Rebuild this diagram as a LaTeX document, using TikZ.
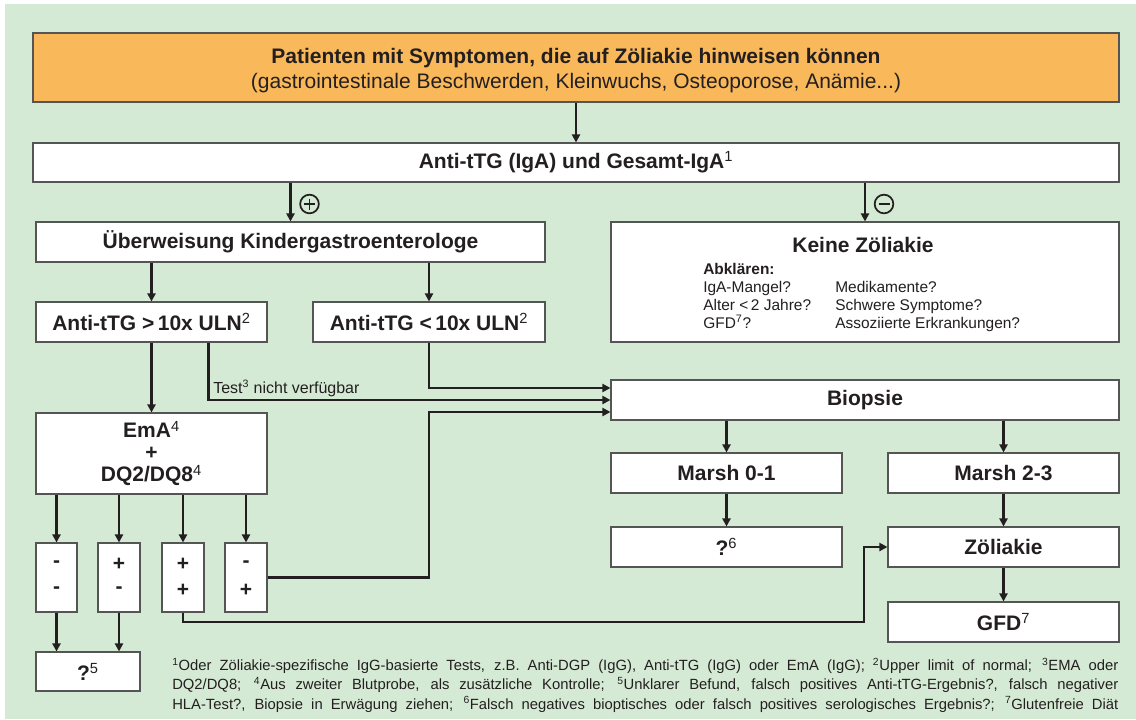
\documentclass[tikz,border=0pt]{standalone}
\usepackage{fontspec}
\setmainfont{Liberation Sans}
\usetikzlibrary{arrows.meta,calc}
\definecolor{bg}{RGB}{213,234,212}
\definecolor{orng}{RGB}{249,184,90}
\definecolor{ink}{RGB}{35,31,32}
\definecolor{edge}{RGB}{85,85,85}
\newcommand\fbig{\fontsize{15.75pt}{16.5pt}\selectfont}
\newcommand\fmid{\fontsize{11.6pt}{13.5pt}\selectfont}
\newcommand\fsmall{\fontsize{11.1pt}{14.6pt}\selectfont}
\newcommand\sps[1]{\textsuperscript{\mdseries #1}}
\begin{document}
\begin{tikzpicture}[x=0.75pt,y=-0.75pt,
  every node/.style={text=ink},
  box/.style={draw=edge, fill=white, line width=0.8pt, inner sep=0pt, font=\fbig\bfseries, align=center},
  corners/.style n args={4}{at={({(#1+#3)/2},{(#2+#4)/2})}, minimum width={(#3-#1)*0.75pt}, minimum height={(#4-#2)*0.75pt}},
  arr/.style={draw=ink, line width=1.7pt, -{Triangle[length=6pt,width=6pt]}},
  circ/.style={circle, draw=ink, line width=1.3pt, minimum size=14pt, inner sep=0pt},
  signline/.style={draw=ink, line width=1.4pt},
  sign/.style={font=\fbig\bfseries, inner sep=0pt},
  small/.style={font=\fmid, inner sep=0pt, anchor=base west},
]
\useasboundingbox (0,0) rectangle (1136,719);
\fill[bg] (5,4) rectangle (1136,719);

% boxes
\node[box, fill=orng, corners={33}{33}{1119}{102}, font=\fontsize{15.75pt}{18.75pt}\selectfont\bfseries] (tit)
  {\rule{0pt}{15.7pt}Patienten mit Symptomen, die auf Zöliakie hinweisen können\\\mdseries (gastrointestinale Beschwerden, Kleinwuchs, Osteoporose, Anämie...)};
\node[box, corners={33}{143}{1119}{182}] (igA) {Anti-tTG (IgA) und Gesamt-IgA\sps{1}};
\node[box, corners={36}{222}{545}{262}] (ueb) {Überweisung Kindergastroenterologe};
\node[box, corners={611}{222}{1119}{342}] (keine) {};
\node[font=\fbig\bfseries, anchor=base, inner sep=0pt] (kztitle) at (863,252) {Keine Zöliakie};
\node[small, font=\fmid\bfseries] (abk) at (703,274.5) {Abklären:};
\node[small] (k1) at (703,292.5) {IgA-Mangel?};
\node[small] (k2) at (703,310.5) {Alter <\,2 Jahre?};
\node[small] (k3) at (703,328) {GFD\sps{7}?};
\node[small] (k4) at (835,292.5) {Medikamente?};
\node[small] (k5) at (835,310.5) {Schwere Symptome?};
\node[small] (k6) at (835,328) {Assoziierte Erkrankungen?};

\node[box, corners={36}{302}{267}{342}] (gt) {Anti-tTG >\,10x ULN\sps{2}};
\node[box, corners={313}{302}{545}{342}] (lt) {Anti-tTG <\,10x ULN\sps{2}};
\node[box, corners={611}{380}{1119}{420}] (biop) {Biopsie};
\node[box, corners={36}{413}{267}{494}] (ema) {EmA\sps{4}\\+\\DQ2/DQ8\sps{4}};

\node[box, corners={36}{543}{77}{612}] (s1) {};
\node[box, corners={98}{543}{140}{612}] (s2) {};
\node[box, corners={162}{543}{204}{612}] (s3) {};
\node[box, corners={225}{543}{267}{612}] (s4) {};
\node[sign] (s1a) at (56.5,564) {-};
\node[sign] (s1b) at (56.5,590) {-};
\node[sign] (s2a) at (119,564) {+};
\node[sign] (s2b) at (119,590) {-};
\node[sign] (s3a) at (183,564) {+};
\node[sign] (s3b) at (183,590) {+};
\node[sign] (s4a) at (246,564) {-};
\node[sign] (s4b) at (246,590) {+};

\node[box, corners={36}{652}{140}{691}] (q5) {?\sps{5}};
\node[box, corners={611}{453}{842}{493}] (m01) {Marsh 0-1};
\node[box, corners={888}{453}{1119}{493}] (m23) {Marsh 2-3};
\node[box, corners={611}{527}{842}{567}] (q6) {?\sps{6}};
\node[box, corners={888}{527}{1119}{567}] (zoel) {Zöliakie};
\node[box, corners={888}{602}{1119}{642}] (gfd) {GFD\sps{7}};

% circled signs
\node[circ] (pl) at (309.5,204) {};
\draw[signline] ($(pl.center)+(-5.5,0)$) -- ($(pl.center)+(5.5,0)$);
\draw[signline] ($(pl.center)+(0,-5.5)$) -- ($(pl.center)+(0,5.5)$);
\node[circ] (mi) at (884,204) {};
\draw[signline] ($(mi.center)+(-5.5,0)$) -- ($(mi.center)+(5.5,0)$);

% connectors
\draw[arr] (tit) -- (igA);
\draw[arr] (igA.south -| ueb.north) -- (ueb.north);
\draw[arr] (igA.south -| keine.north) -- (keine.north);
\draw[arr] (ueb.south -| gt.north) -- (gt.north);
\draw[arr] (ueb.south -| lt.north) -- (lt.north);
\draw[arr] (gt) -- (ema);
\coordinate (gtr) at ($(gt.south)+(57,0)$);
\draw[arr] (gtr) |- (biop.west);
\node[small, font=\fontsize{12pt}{14pt}\selectfont] (tnv) at (213,393) {Test\sps{3} nicht verfügbar};
\draw[arr] (lt.south) |- ($(biop.west)+(0,-12)$);
\draw[arr] (s4.east) -- (s4.east -| lt.south) |- ($(biop.west)+(0,12)$);
\foreach \s in {s1,s2,s3,s4} \draw[arr] (ema.south -| \s.north) -- (\s.north);
\draw[arr] (s1.south) -- (s1.south |- q5.north);
\draw[arr] (s2.south) -- (s2.south |- q5.north);
\coordinate (bend) at (864,622);
\draw[arr] (s3.south) |- (bend) |- (zoel.west);
\draw[arr] (biop.south -| m01.north) -- (m01.north);
\draw[arr] (biop.south -| m23.north) -- (m23.north);
\draw[arr] (m01) -- (q6);
\draw[arr] (m23) -- (zoel);
\draw[arr] (zoel) -- (gfd);

% footnotes
\node[anchor=north west, inner sep=0pt, text width=709.5pt, align=justify, font=\fsmall] (fn) at (172,657.5)
 {\hyphenpenalty=10000 \exhyphenpenalty=10000 \sps{1}Oder Zöliakie-spezifische IgG-basierte Tests, z.B. Anti-DGP (IgG), Anti-tTG (IgG) oder EmA (IgG); \sps{2}Upper limit of normal; \sps{3}EMA oder\linebreak DQ2/DQ8; \sps{4}Aus zweiter Blutprobe, als zusätzliche Kontrolle; \sps{5}Unklarer Befund, falsch positives Anti-tTG-Ergebnis?, falsch negativer\linebreak HLA-Test?, Biopsie in Erwägung ziehen; \sps{6}Falsch negatives bioptisches oder falsch positives serologisches Ergebnis?; \sps{7}Glutenfreie Diät{\parfillskip=0pt\par}};
\end{tikzpicture}
\end{document}
